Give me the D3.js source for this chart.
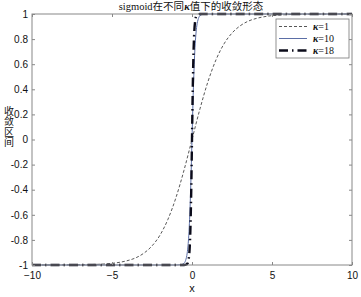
<!DOCTYPE html>
<html><head><meta charset="utf-8">
<script src="https://cdn.jsdelivr.net/npm/d3@7/dist/d3.min.js"></script>
<style>body{margin:0;background:#fff}svg{display:block}</style>
</head><body>
<script>
// values
const xTicks = [-10, -5, 0, 5, 10];
const yTicks = [-1, -0.8, -0.6, -0.4, -0.2, 0, 0.2, 0.4, 0.6, 0.8, 1];
const k1X = [-10, -8, -7, -6, -5, -4.5, -4, -3.5, -3, -2.5, -2, -1.5, -1, -0.5, 0, 0.5, 1, 1.5, 2, 2.5, 3, 3.5, 4, 4.5, 5, 6, 7, 8, 10];
const k1Y = [-1, -0.999, -0.998, -0.995, -0.987, -0.978, -0.964, -0.942, -0.905, -0.848, -0.762, -0.635, -0.462, -0.245, 0, 0.245, 0.462, 0.635, 0.762, 0.848, 0.905, 0.942, 0.964, 0.978, 0.987, 0.995, 0.998, 0.999, 1];
const k10X = [-10, -2, -1, -0.7, -0.6, -0.5, -0.4, -0.3, -0.25, -0.2, -0.15, -0.1, -0.05, 0, 0.05, 0.1, 0.15, 0.2, 0.25, 0.3, 0.4, 0.5, 0.6, 0.7, 1, 2, 10];
const k10Y = [-1, -1, -1, -0.998, -0.995, -0.987, -0.964, -0.905, -0.848, -0.762, -0.635, -0.462, -0.245, 0, 0.245, 0.462, 0.635, 0.762, 0.848, 0.905, 0.964, 0.987, 0.995, 0.998, 1, 1, 1];
const k18X = [-10, -1, -0.5, -0.35, -0.3, -0.25, -0.2, -0.15, -0.1, -0.05, 0, 0.05, 0.1, 0.15, 0.2, 0.25, 0.3, 0.35, 0.5, 1, 10];
const k18Y = [-1, -1, -1, -0.996, -0.99, -0.979, -0.947, -0.874, -0.716, -0.422, 0, 0.422, 0.716, 0.874, 0.947, 0.979, 0.99, 0.996, 1, 1, 1];
const legendLabels = ["1", "10", "18"];
const yLabelText = "收敛区间";

const W = 361, H = 297;
const m = {l: 32, r: 9, t: 14, b: 32};
const svg = d3.select("body").append("svg").attr("width", W).attr("height", H);
const x = d3.scaleLinear().domain([-10, 10]).range([m.l, W - m.r]);
const y = d3.scaleLinear().domain([-1, 1]).range([H - m.b, m.t]);

const g = svg.append("g");
const line = d3.line().x(d => x(d[0])).y(d => y(d[1])).curve(d3.curveMonotoneX);
const series = [
  {xs: k1X, ys: k1Y, color: "#444", w: 0.9, dash: "3,2"},
  {xs: k10X, ys: k10Y, color: "#5b6ea6", w: 1, dash: null},
  {xs: k18X, ys: k18Y, color: "#0b0b1a", w: 2.4, dash: "9,4,1.5,4"}
];
svg.append("clipPath").attr("id", "c").append("rect")
  .attr("x", m.l).attr("y", m.t - 2).attr("width", W - m.l - m.r).attr("height", H - m.t - m.b + 4);
series.forEach(s => {
  g.append("path").datum(s.xs.map((v, i) => [v, s.ys[i]]))
    .attr("d", line).attr("fill", "none").attr("stroke", s.color)
    .attr("stroke-width", s.w).attr("stroke-dasharray", s.dash)
    .attr("clip-path", "url(#c)");
});

const axC = "#888";
svg.append("rect").attr("x", m.l).attr("y", m.t).attr("width", W - m.l - m.r).attr("height", H - m.t - m.b)
  .attr("fill", "none").attr("stroke", axC).attr("stroke-width", 1);

const xb = svg.append("g").attr("transform", `translate(0,${H - m.b})`)
  .call(d3.axisBottom(x).tickValues(xTicks).tickSize(-3).tickPadding(7).tickFormat(d3.format("d")));
const xt = svg.append("g").attr("transform", `translate(0,${m.t})`)
  .call(d3.axisTop(x).tickValues(xTicks).tickSize(-3).tickFormat(""));
const yl = svg.append("g").attr("transform", `translate(${m.l},0)`)
  .call(d3.axisLeft(y).tickValues(yTicks).tickSize(-3).tickPadding(4).tickFormat(d => String(+d.toFixed(1))));
const yr = svg.append("g").attr("transform", `translate(${W - m.r},0)`)
  .call(d3.axisRight(y).tickValues(yTicks).tickSize(-3).tickFormat(""));
[xb, xt, yl, yr].forEach(a => {
  a.select(".domain").remove();
  a.selectAll("line").attr("stroke", axC);
  a.selectAll("text").attr("font-family", "Liberation Sans, Arial, sans-serif").attr("font-size", 10).attr("fill", "#111");
});

// title
const title = svg.append("text").attr("x", 191).attr("y", 10).attr("text-anchor", "middle")
  .attr("font-family", "'Liberation Serif', 'Noto Sans CJK SC', serif").attr("font-size", 10.5).attr("fill", "#111");
title.append("tspan").text("sigmoid在不同");
title.append("tspan").attr("font-style", "italic").attr("font-weight", "bold").text("κ");
title.append("tspan").text("值下的收敛形态");

// axis labels
svg.append("text").attr("x", x(0)).attr("y", 292).attr("text-anchor", "middle")
  .attr("font-family", "Liberation Sans, Arial, sans-serif").attr("font-size", 11).attr("fill", "#111").text("x");
svg.append("text").attr("x", 9).attr("y", 106)
  .attr("font-family", "'Noto Sans CJK SC', sans-serif").attr("font-size", 10).attr("fill", "#111")
  .style("writing-mode", "vertical-rl").style("letter-spacing", "0.5px").text(yLabelText);

// legend
const lg = svg.append("g").attr("transform", "translate(276,19)");
lg.append("rect").attr("width", 73).attr("height", 39).attr("fill", "#fff").attr("stroke", "#777").attr("stroke-width", 0.8);
series.forEach((s, i) => {
  const yy = 7.5 + i * 12;
  lg.append("line").attr("x1", 3).attr("x2", 31).attr("y1", yy).attr("y2", yy)
    .attr("stroke", s.color).attr("stroke-width", s.w).attr("stroke-dasharray", s.dash);
  const t = lg.append("text").attr("x", 37).attr("y", yy + 3.5)
    .attr("font-family", "'Liberation Serif', serif").attr("font-size", 10).attr("fill", "#111");
  t.append("tspan").attr("font-style", "italic").attr("font-weight", "bold").text("κ");
  t.append("tspan").text("=" + legendLabels[i]);
});
</script>
</body></html>
